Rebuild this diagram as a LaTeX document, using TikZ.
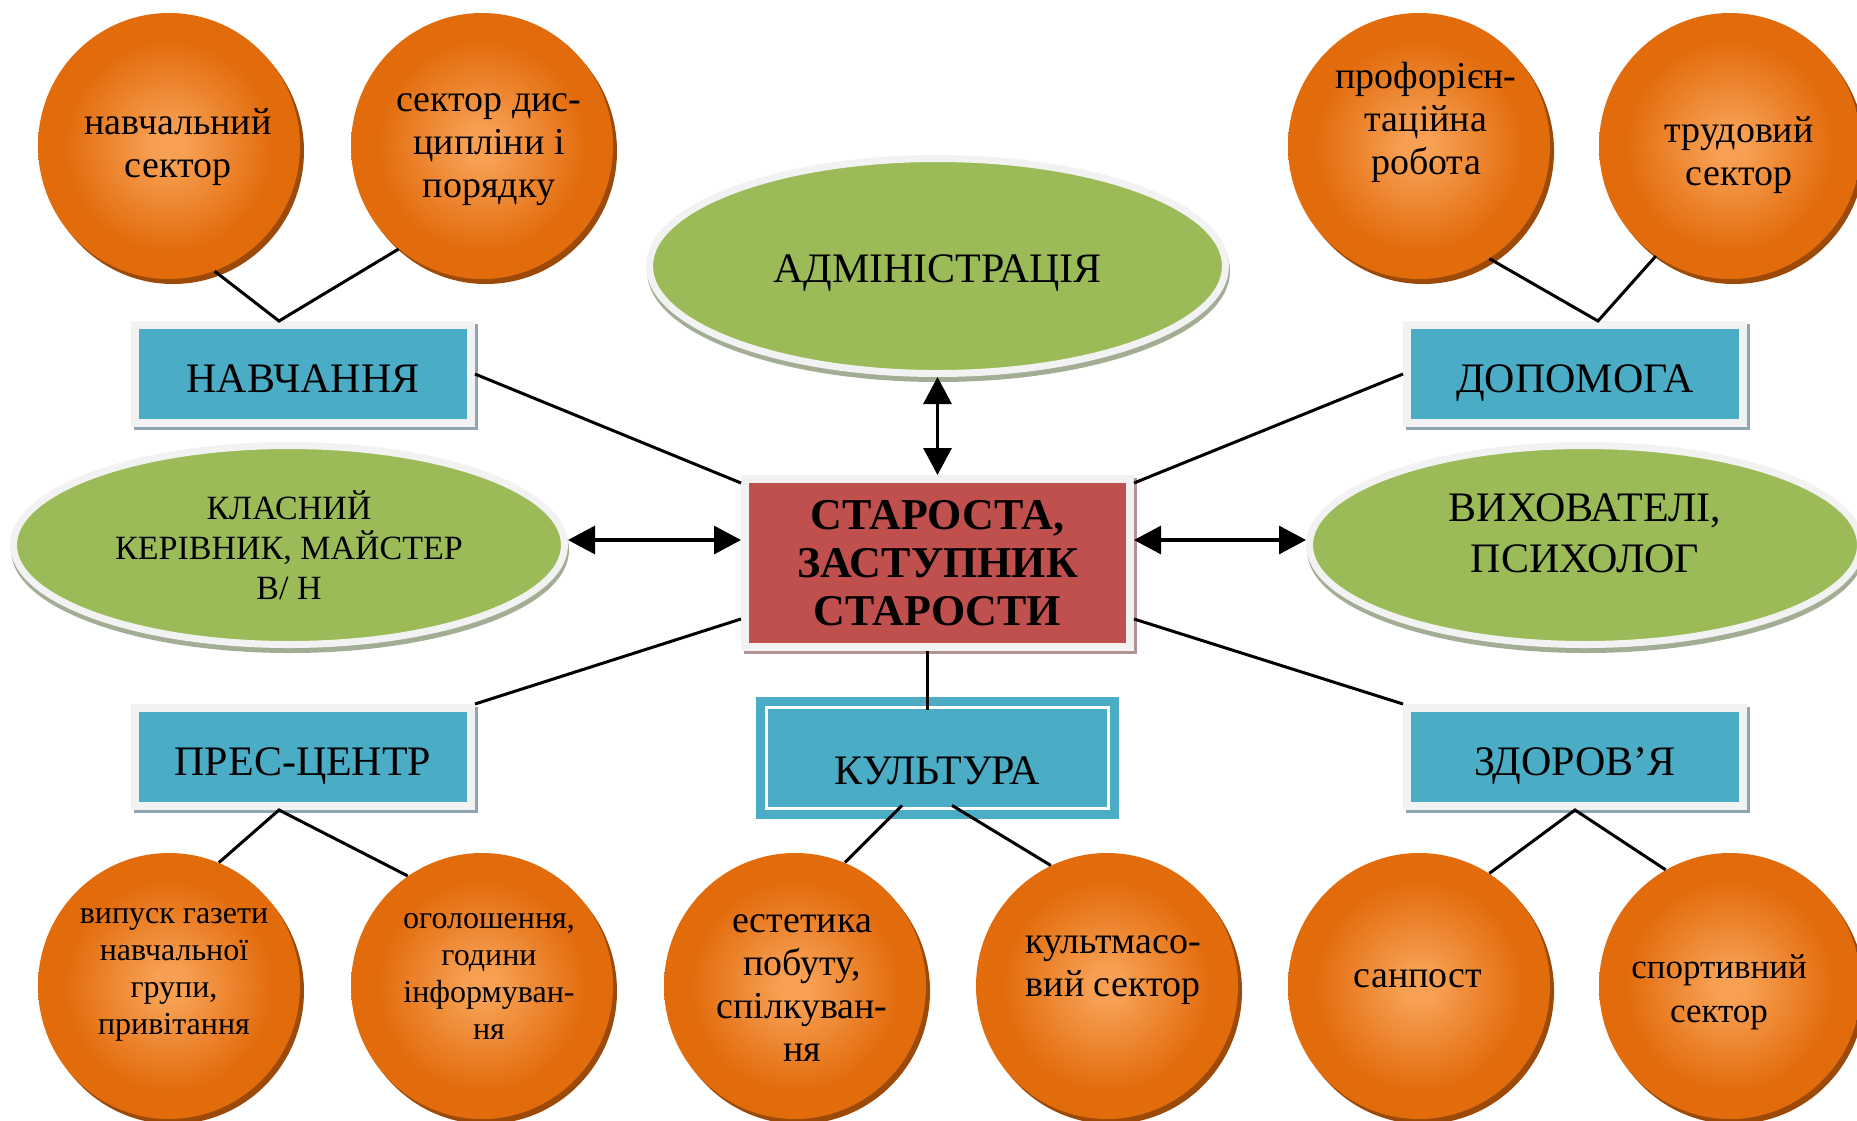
\documentclass[tikz,border=0pt]{standalone}
\usepackage{fontspec}
\setmainfont{Liberation Serif}
\usetikzlibrary{shapes.geometric,arrows.meta,shadows,calc}
\definecolor{oL}{HTML}{F7A053}
\definecolor{oD}{HTML}{E26B0C}
\definecolor{oS}{HTML}{9C4A0A}
\definecolor{gr}{HTML}{9BBB59}
\definecolor{ring}{HTML}{F2F2F2}
\definecolor{grS}{HTML}{A3AD94}
\definecolor{bl}{HTML}{4BACC6}
\definecolor{blS}{HTML}{8FA5B1}
\definecolor{rd}{HTML}{C0504D}
\definecolor{rdS}{HTML}{B39494}
\pgfdeclareradialshading{orbshade}{\pgfpoint{0bp}{0bp}}{color(0bp)=(oL); color(3bp)=(oL); color(20bp)=(oD); color(25bp)=(oD); color(50bp)=(oD)}
\tikzset{
  orb/.style={ellipse, minimum width=131pt, minimum height=133pt, inner sep=0pt,
    shading=orbshade, general shadow={fill=oS, shadow xshift=2pt, shadow yshift=-2.5pt}},
  ctext/.style={align=center, inner sep=0pt, font=\fontsize{19pt}{21.5pt}\selectfont},
  stext/.style={align=center, inner sep=0pt, font=\fontsize{16pt}{18.5pt}\selectfont},
  mtext/.style={align=center, inner sep=0pt, font=\fontsize{17.5pt}{22pt}\selectfont},
  greenell/.style={ellipse, fill=gr, draw=ring, line width=3.5pt, inner sep=0pt,
    general shadow={draw=grS, fill=grS, line width=3.5pt, shadow xshift=0.5pt, shadow yshift=-2.5pt}},
  bbox/.style={rectangle, fill=bl, draw=ring, line width=4pt, minimum width=168pt,
    minimum height=49pt, inner sep=0pt, font=\fontsize{21pt}{24pt}\selectfont,
    text height=18pt, text depth=0pt,
    general shadow={draw=blS, fill=blS, line width=4pt, shadow xshift=1.5pt, shadow yshift=-1.5pt}},
  kbox/.style={rectangle, fill=bl, minimum width=181.5pt, minimum height=61pt, inner sep=0pt,
    font=\fontsize{21pt}{24pt}\selectfont, text height=26pt, text depth=0pt},
  redbox/.style={rectangle, fill=rd, draw=ring, line width=4pt, minimum width=192.5pt,
    minimum height=84pt, inner sep=0pt, align=center,
    font=\bfseries\fontsize{22pt}{24pt}\selectfont,
    general shadow={draw=rdS, fill=rdS, line width=4pt, shadow xshift=1.5pt, shadow yshift=-1.5pt}},
  conn/.style={line width=1.5pt, black},
  arr/.style={line width=1.6pt, black, {Triangle[width=14pt,length=13.5pt]}-{Triangle[width=14pt,length=13.5pt]}}
}
\begin{document}
\begin{tikzpicture}[x=0.5pt,y=-0.5pt]
\useasboundingbox (0,0) rectangle (1857,1120);
\clip (0,0) rectangle (1857,1120);
\fill[white] (0,0) rectangle (1857,1120);

% orange circles
\node[orb] (c1) at (169,146) {};
\node[orb] (c2) at (482,146) {};
\node[orb] (c3) at (1419,146) {};
\node[orb] (c4) at (1730,146) {};
\node[orb] (c5) at (169,986) {};
\node[orb] (c6) at (482,986) {};
\node[orb] (c7) at (795,986) {};
\node[orb] (c8) at (1107,986) {};
\node[orb] (c9) at (1419,986) {};
\node[orb] (c10) at (1730,986) {};

% green ellipses
\node[greenell, minimum width=288pt, minimum height=107.5pt,
  font=\fontsize{21pt}{24pt}\selectfont, text height=16pt, text depth=0pt] (adm) at (937.5,266) {АДМІНІСТРАЦІЯ};
\node[greenell, minimum width=275.5pt, minimum height=99.5pt, align=center,
  font=\fontsize{17pt}{20pt}\selectfont] (kl) at (289,545) {КЛАСНИЙ\\КЕРІВНИК, МАЙСТЕР\\В/ Н};
\node[greenell, minimum width=275.5pt, minimum height=99.5pt] (vy) at (1585,545) {};

% boxes
\node[redbox] (s) at (937.5,563) {СТАРОСТА,\\ЗАСТУПНИК\\СТАРОСТИ};
\node[bbox] (nav) at (303,374) {НАВЧАННЯ};
\node[bbox] (dop) at (1575,374) {ДОПОМОГА};
\node[bbox] (pres) at (303,757) {ПРЕС-ЦЕНТР};
\node[bbox] (zd) at (1575,757) {ЗДОРОВ’Я};
\node[kbox] (kul) at (937.5,758) {КУЛЬТУРА};
\draw[white, line width=1.5pt] ([shift={(5.25pt,-5.25pt)}]kul.north west) rectangle ([shift={(-5.25pt,5.25pt)}]kul.south east);

% texts
\node[ctext] (t1) at (178,147) {навчальний\\сектор};
\node[ctext] (t2) at (489,150) {сектор дис-\\ципліни і\\порядку};
\node[ctext] (t3) at (1426,122) {профорієн-\\таційна\\робота};
\node[ctext] (t4) at (1739,155) {трудовий\\сектор};
\node[stext] (t5) at (174,975) {випуск газети\\навчальної\\групи,\\привітання};
\node[stext] (t6) at (489,976) {оголошення,\\години\\інформуван-\\ня};
\node[ctext] (t7) at (802,988) {естетика\\побуту,\\спілкуван-\\ня};
\node[ctext] (t8) at (1113,970) {культмасо-\\вий сектор};
\node[ctext] (t9) at (1418,979) {санпост};
\node[mtext] (t10) at (1719,992) {спортивний\\сектор};
\node[align=center, inner sep=0pt, font=\fontsize{21pt}{25.5pt}\selectfont] (vyt) at (1585,533.5) {ВИХОВАТЕЛІ,\\ПСИХОЛОГ};

% sector connectors
\draw[conn] (c1.290) -- ([xshift=-12pt]nav.north) -- (c2.231);
\draw[conn] (c3.302) -- ([xshift=11.5pt]dop.north) -- (c4.236);
\draw[conn] (c5.68) -- ([xshift=-12pt]pres.south) -- (c6.124);
\draw[conn] (c7.68) -- ([xshift=-17.75pt,yshift=7pt]kul.south);
\draw[conn] (c8.115) -- ([xshift=7.25pt,yshift=7pt]kul.south);
\draw[conn] (c9.58) -- (zd.south) -- (c10.119);

% main connectors
\draw[conn] (nav.east) -- ([yshift=-4pt]s.north west);
\draw[conn] (dop.west) -- ([yshift=-4pt]s.north east);
\draw[conn] (pres.north east) -- ([yshift=16pt]s.south west);
\draw[conn] (zd.north west) -- ([yshift=16pt]s.south east);
\draw[conn] ([xshift=-5.25pt]s.south) -- ([xshift=-5.25pt,yshift=-6.5pt]kul.north);

% arrows
\coordinate (la) at ([yshift=2.5pt]kl.east);
\coordinate (ra) at ([yshift=2.5pt]vy.west);
\draw[arr] (adm.south) -- (s.north);
\draw[arr] (la) -- (la -| s.west);
\draw[arr] (ra) -- (ra -| s.east);
\end{tikzpicture}
\end{document}
